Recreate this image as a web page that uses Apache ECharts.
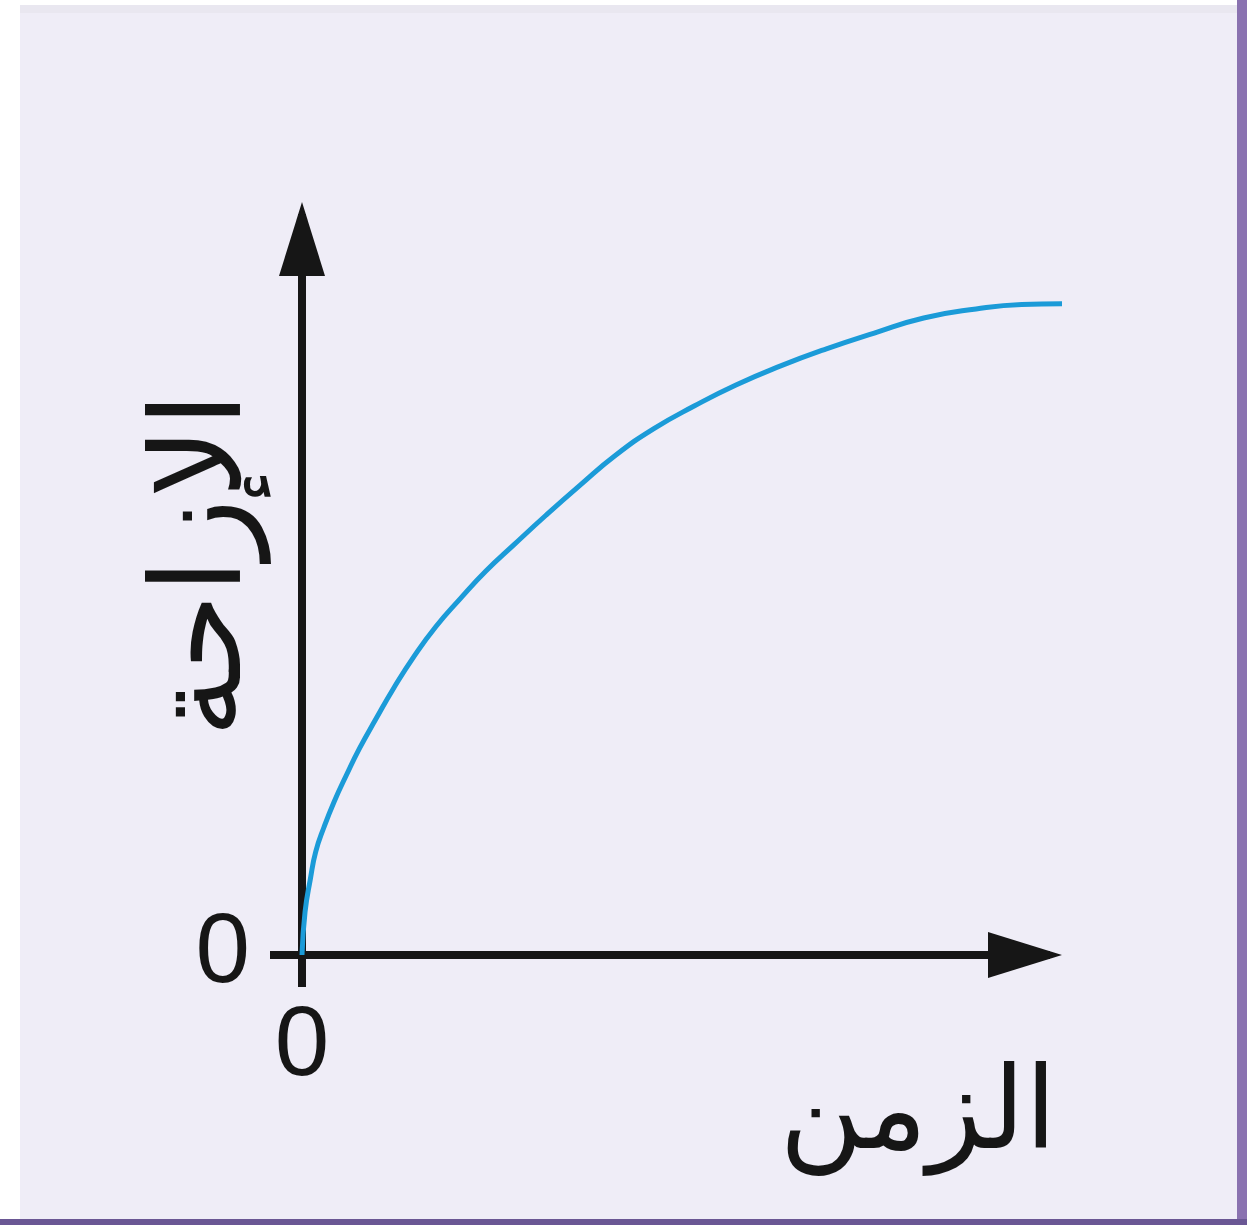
<!DOCTYPE html>
<html>
<head>
<meta charset="utf-8">
<style>
  html, body { margin: 0; padding: 0; background: #ffffff; }
  #chart { width: 1252px; height: 1232px; }
</style>
<script src="https://cdn.jsdelivr.net/npm/echarts@6/dist/echarts.min.js"></script>
</head>
<body>
<div id="chart"></div>
<script>
// Displacement grows quickly at first, then levels off with time.
const timeValues = [0, 0.04, 0.11, 0.18, 0.29, 0.42, 0.58, 0.76, 0.97, 1.21, 1.47, 1.76,
  2.08, 2.42, 2.79, 3.21, 3.66, 4.13, 4.63, 5.16, 5.71, 6.29, 6.90, 7.53, 8.18,
  8.87, 9.47, 10.0];
const displacementValues = [0, 0.57, 1.01, 1.37, 1.70, 2.03, 2.38, 2.75, 3.13, 3.55, 3.96, 4.36,
  4.73, 5.10, 5.45, 5.84, 6.24, 6.64, 6.99, 7.29, 7.57, 7.82, 8.05, 8.26, 8.46,
  8.58, 8.64, 8.65];
const xTickLabels = [0];
const yTickLabels = [0];
const xTitle = 'الزمن';
const yTitle = 'الإزاحة';

const curve = timeValues.map((t, i) => [t, displacementValues[i]]);

const ink = '#161616';
const arrowLen = 74;

// Axis line with a solid triangular head whose tip sits at the axis end;
// the dash pattern stops the shaft just before the narrow tip of the head.
function axisLine(lengthPx) {
  return {
    show: true,
    onZero: false,
    symbol: ['none', 'triangle'],
    symbolSize: [46, arrowLen],
    symbolOffset: [0, -arrowLen / 2],
    lineStyle: { color: ink, width: 8, cap: 'butt', type: [lengthPx - 12, 3000] }
  };
}

const axisCommon = {
  type: 'value',
  min: 0,
  max: 10,
  interval: 10,
  splitLine: { show: false },
  nameMoveOverlap: false,
  axisTick: {
    show: true,
    length: 32,
    lineStyle: { color: ink, width: 8 }
  },
  axisLabel: {
    color: ink,
    fontFamily: 'Liberation Sans, Arial, sans-serif',
    fontSize: 98
  }
};

const grid = { left: 302, right: 190, top: 202, bottom: 277 };
const plotW = 1252 - grid.left - grid.right;
const plotH = 1232 - grid.top - grid.bottom;

const chart = echarts.init(document.getElementById('chart'), null, { renderer: 'canvas' });
chart.setOption({
  backgroundColor: '#ffffff',
  animation: false,
  graphic: [
    { type: 'rect', z: -10, silent: true, shape: { x: 20, y: 5, width: 1217, height: 1215 }, style: { fill: '#efedf7' } },
    { type: 'rect', z: -9, silent: true, shape: { x: 20, y: 5, width: 1217, height: 8 }, style: { fill: '#e9e7f0' } },
    { type: 'rect', z: -8, silent: true, shape: { x: 1237, y: 0, width: 10, height: 1225 }, style: { fill: '#8a72b0' } },
    { type: 'rect', z: -8, silent: true, shape: { x: 0, y: 1219, width: 1247, height: 6 }, style: { fill: '#6a5794' } }
  ],
  grid: Object.assign({ containLabel: false }, grid),
  xAxis: Object.assign({}, axisCommon, {
    axisLine: axisLine(plotW),
    name: xTitle,
    nameLocation: 'middle',
    nameGap: 106,
    nameTextStyle: {
      color: ink,
      fontFamily: 'DejaVu Sans, sans-serif',
      fontSize: 114,
      padding: [0, 0, 0, 472]
    },
    axisTick: Object.assign({}, axisCommon.axisTick, { customValues: xTickLabels }),
    axisLabel: Object.assign({}, axisCommon.axisLabel, { margin: 44, customValues: xTickLabels })
  }),
  yAxis: Object.assign({}, axisCommon, {
    axisLine: axisLine(plotH),
    name: yTitle,
    nameLocation: 'middle',
    nameGap: 32,
    nameRotate: 90,
    nameTextStyle: {
      color: ink,
      fontFamily: 'DejaVu Sans, sans-serif',
      fontSize: 125,
      padding: [0, 0, 0, 27]
    },
    axisTick: Object.assign({}, axisCommon.axisTick, { customValues: yTickLabels }),
    axisLabel: Object.assign({}, axisCommon.axisLabel, { margin: 52, customValues: yTickLabels })
  }),
  series: [{
    type: 'line',
    data: curve,
    smooth: 0.5,
    clip: false,
    showSymbol: false,
    lineStyle: { color: '#1b9bd8', width: 5 },
    z: 1
  }]
});
</script>
</body>
</html>
